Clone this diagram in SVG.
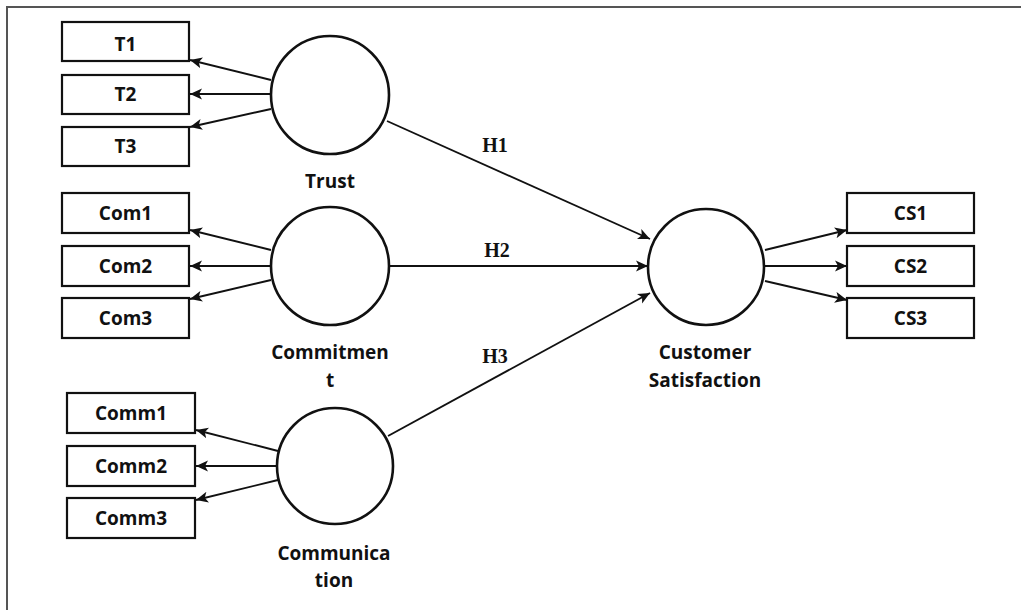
<svg xmlns="http://www.w3.org/2000/svg" width="1021" height="610" viewBox="0 0 1021 610">
<style>
.box{fill:#fff;stroke:#111;stroke-width:2.2}
.lat{fill:#fff;stroke:#111;stroke-width:2.6}
.t{font-family:"Open Sans","Noto Sans",sans-serif;font-weight:bold;font-size:19px;fill:#111;text-anchor:middle}
.h{font-family:"Liberation Serif","Times New Roman",serif;font-weight:bold;font-size:20px;fill:#111;text-anchor:middle}
.c{stroke:#111;stroke-width:1.9;fill:none;marker-end:url(#ah)}
</style>
<defs>
<marker id="ah" markerUnits="userSpaceOnUse" markerWidth="13" markerHeight="12" refX="12" refY="6" orient="auto">
<path d="M0,0.5 L12,6 L0,11.5 L3,6 Z" fill="#111"/>
</marker>
</defs>
<rect width="1021" height="610" fill="#fff"/>
<path d="M7,610 V7 H1021" fill="none" stroke="#555" stroke-width="2"/>
<g id="connectors">
<line class="c" x1="271" y1="80" x2="190" y2="60"/>
<line class="c" x1="270" y1="94" x2="190" y2="94"/>
<line class="c" x1="271" y1="109" x2="190" y2="127"/>
<line class="c" x1="271" y1="250" x2="190" y2="230"/>
<line class="c" x1="270" y1="266" x2="190" y2="266"/>
<line class="c" x1="271" y1="280" x2="190" y2="299"/>
<line class="c" x1="278" y1="451" x2="196" y2="430"/>
<line class="c" x1="276" y1="466" x2="196" y2="466"/>
<line class="c" x1="278" y1="480" x2="196" y2="500"/>
<line class="c" x1="387" y1="121" x2="650" y2="239"/>
<line class="c" x1="389" y1="266" x2="648" y2="266"/>
<line class="c" x1="388" y1="436" x2="650" y2="293"/>
<line class="c" x1="765" y1="250" x2="847" y2="230"/>
<line class="c" x1="765" y1="266" x2="847" y2="266"/>
<line class="c" x1="765" y1="281" x2="847" y2="300"/>
<text class="h" x="495" y="152">H1</text>
<text class="h" x="497" y="257">H2</text>
<text class="h" x="495" y="363">H3</text>
</g>
<g id="T1"><rect class="box" x="62" y="22" width="127" height="39"/><text class="t" x="125.5" y="51">T1</text></g>
<g id="T2"><rect class="box" x="62" y="75" width="127" height="39"/><text class="t" x="125.5" y="101">T2</text></g>
<g id="T3"><rect class="box" x="62" y="127" width="127" height="39"/><text class="t" x="125.5" y="153">T3</text></g>
<g id="Com1"><rect class="box" x="62" y="193" width="127" height="40"/><text class="t" x="125.5" y="220">Com1</text></g>
<g id="Com2"><rect class="box" x="62" y="246" width="127" height="40"/><text class="t" x="125.5" y="273">Com2</text></g>
<g id="Com3"><rect class="box" x="62" y="298" width="127" height="40"/><text class="t" x="125.5" y="325">Com3</text></g>
<g id="Comm1"><rect class="box" x="67" y="393" width="128" height="40"/><text class="t" x="131" y="420">Comm1</text></g>
<g id="Comm2"><rect class="box" x="67" y="446" width="128" height="40"/><text class="t" x="131" y="473">Comm2</text></g>
<g id="Comm3"><rect class="box" x="67" y="498" width="128" height="40"/><text class="t" x="131" y="525">Comm3</text></g>
<g id="CS1"><rect class="box" x="847" y="193" width="127" height="40"/><text class="t" x="910.5" y="220">CS1</text></g>
<g id="CS2"><rect class="box" x="847" y="246" width="127" height="40"/><text class="t" x="910.5" y="273">CS2</text></g>
<g id="CS3"><rect class="box" x="847" y="298" width="127" height="40"/><text class="t" x="910.5" y="325">CS3</text></g>
<g id="Trust"><circle class="lat" cx="330" cy="95" r="59"/><text class="t" x="330" y="188">Trust</text></g>
<g id="Commitment"><circle class="lat" cx="330" cy="266" r="59"/><text class="t" x="330" y="359">Commitmen</text><text class="t" x="330" y="387">t</text></g>
<g id="Communication"><circle class="lat" cx="335" cy="466" r="58"/><text class="t" x="334" y="560">Communica</text><text class="t" x="334" y="587">tion</text></g>
<g id="CustomerSatisfaction"><circle class="lat" cx="706" cy="267" r="58"/><text class="t" x="705" y="359">Customer</text><text class="t" x="705" y="387">Satisfaction</text></g>
</svg>
